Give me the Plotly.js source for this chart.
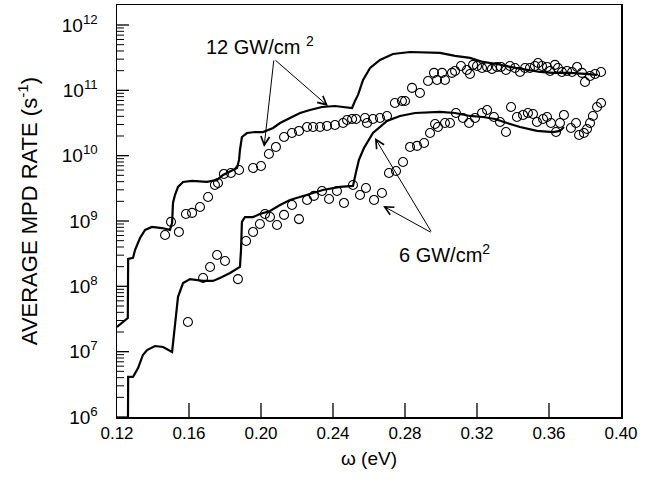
<!DOCTYPE html>
<html>
<head>
<meta charset="utf-8">
<script src="https://cdn.plot.ly/plotly-3.0.1.min.js"></script>
<style>html,body{margin:0;padding:0;background:#fff;}#chart{width:652px;height:487px;}</style>
</head>
<body>
<div id="chart"></div>
<script>
// Theory curve, 12 GW/cm^2
const omega12Line = [0.1200, 0.1260, 0.1262, 0.1289, 0.1300, 0.1328, 0.1356, 0.1394, 0.1450, 0.1494, 0.1506, 0.1511, 0.1522, 0.1539, 0.1567, 0.1617, 0.1700, 0.1756, 0.1789, 0.1839, 0.1867, 0.1878, 0.1883, 0.1894, 0.1922, 0.1967, 0.2011, 0.2067, 0.2106, 0.2161, 0.2217, 0.2272, 0.2339, 0.2411, 0.2467, 0.2506, 0.2522, 0.2539, 0.2567, 0.2606, 0.2661, 0.2733, 0.2828, 0.2922, 0.2994, 0.3078, 0.3161, 0.3233, 0.3311, 0.3383, 0.3478, 0.3550, 0.3622, 0.3717, 0.3800, 0.3867];
const rate12Line = [2.39e7, 3.27e7, 2.62e8, 2.72e8, 3.6e8, 5.5e8, 7.3e8, 8.1e8, 7.8e8, 7.3e8, 9.3e8, 1.89e9, 2.5e9, 3.32e9, 3.96e9, 4.1e9, 3.96e9, 4.25e9, 5.06e9, 6.0e9, 6.5e9, 8.6e9, 1.22e10, 1.93e10, 2.22e10, 2.3e10, 2.3e10, 2.65e10, 3.16e10, 3.77e10, 4.5e10, 5.0e10, 5.56e10, 5.76e10, 5.56e10, 5.37e10, 6.87e10, 8.5e10, 1.44e11, 2.2e11, 2.92e11, 3.6e11, 3.86e11, 3.73e11, 3.73e11, 3.36e11, 3.13e11, 2.72e11, 2.53e11, 2.28e11, 2.05e11, 1.91e11, 1.85e11, 1.85e11, 1.78e11, 1.72e11];

// Theory curve, 6 GW/cm^2
const omega6Line = [0.1261, 0.1262, 0.1289, 0.1317, 0.1344, 0.1367, 0.1411, 0.1456, 0.1506, 0.1517, 0.1528, 0.1539, 0.1567, 0.1606, 0.1678, 0.1733, 0.1772, 0.1828, 0.1883, 0.1889, 0.1894, 0.1911, 0.1956, 0.1994, 0.2050, 0.2106, 0.2161, 0.2256, 0.2344, 0.2439, 0.2511, 0.2528, 0.2544, 0.2572, 0.2622, 0.2700, 0.2772, 0.2856, 0.2994, 0.3078, 0.3161, 0.3233, 0.3300, 0.3367, 0.3439, 0.3533, 0.3622, 0.3661, 0.3683];
const rate6Line = [1.0e6, 4.1e6, 4.1e6, 5.6e6, 8.9e6, 1.06e7, 1.22e7, 1.18e7, 9.9e6, 1.8e7, 3.64e7, 6.9e7, 1.12e8, 1.29e8, 1.21e8, 1.21e8, 1.34e8, 1.6e8, 1.98e8, 3.6e8, 9.7e8, 1.15e9, 1.15e9, 1.28e9, 1.42e9, 1.76e9, 2.1e9, 2.5e9, 2.98e9, 3.32e9, 3.44e9, 5.6e9, 8.6e9, 1.31e10, 2.22e10, 3.4e10, 4.05e10, 4.5e10, 4.67e10, 4.5e10, 4.05e10, 3.91e10, 3.64e10, 3.16e10, 2.75e10, 2.39e10, 2.3e10, 2.39e10, 2.75e10];

// Measured points, 12 GW/cm^2
const omega12Exp = [0.1467, 0.1500, 0.1544, 0.1583, 0.1617, 0.1661, 0.1706, 0.1744, 0.1761, 0.1794, 0.1833, 0.1878, 0.1956, 0.2000, 0.2044, 0.2083, 0.2128, 0.2172, 0.2211, 0.2256, 0.2289, 0.2328, 0.2367, 0.2411, 0.2456, 0.2478, 0.2506, 0.2528, 0.2578, 0.2589, 0.2622, 0.2661, 0.2700, 0.2744, 0.2783, 0.2800, 0.2839, 0.2883, 0.2928, 0.2961, 0.2978, 0.3006, 0.3022, 0.3061, 0.3078, 0.3111, 0.3144, 0.3161, 0.3178, 0.3200, 0.3228, 0.3256, 0.3283, 0.3311, 0.3333, 0.3361, 0.3383, 0.3411, 0.3439, 0.3467, 0.3494, 0.3522, 0.3539, 0.3561, 0.3589, 0.3606, 0.3633, 0.3650, 0.3672, 0.3700, 0.3728, 0.3756, 0.3783, 0.3800, 0.3828, 0.3856, 0.3889];
const rate12Exp = [6.1e8, 9.7e8, 6.8e8, 1.28e9, 1.33e9, 1.64e9, 2.33e9, 3.56e9, 3.82e9, 5.25e9, 5.43e9, 6.04e9, 6.47e9, 6.95e9, 1.06e10, 1.36e10, 1.93e10, 2.22e10, 2.39e10, 2.75e10, 2.75e10, 2.75e10, 2.85e10, 2.95e10, 3.16e10, 3.52e10, 3.64e10, 3.64e10, 3.77e10, 3.16e10, 3.64e10, 3.77e10, 4.05e10, 6.4e10, 6.87e10, 6.87e10, 1.09e11, 9.1e10, 1.39e11, 1.85e11, 1.44e11, 1.85e11, 1.44e11, 1.85e11, 1.98e11, 2.36e11, 2.05e11, 1.78e11, 2.45e11, 2.36e11, 2.20e11, 2.28e11, 2.12e11, 2.28e11, 2.28e11, 2.05e11, 2.36e11, 2.20e11, 1.91e11, 2.20e11, 2.20e11, 2.36e11, 2.62e11, 2.36e11, 2.28e11, 1.98e11, 2.45e11, 2.20e11, 1.91e11, 1.98e11, 1.91e11, 2.28e11, 1.85e11, 1.34e11, 1.66e11, 1.78e11, 1.91e11];

// Measured points, 6 GW/cm^2
const omega6Exp = [0.1594, 0.1678, 0.1717, 0.1756, 0.1800, 0.1872, 0.1917, 0.1956, 0.1994, 0.2022, 0.2050, 0.2089, 0.2128, 0.2172, 0.2211, 0.2256, 0.2294, 0.2339, 0.2378, 0.2422, 0.2461, 0.2511, 0.2550, 0.2583, 0.2628, 0.2672, 0.2711, 0.2750, 0.2789, 0.2828, 0.2867, 0.2906, 0.2939, 0.2967, 0.2983, 0.3022, 0.3050, 0.3083, 0.3122, 0.3156, 0.3189, 0.3228, 0.3256, 0.3294, 0.3328, 0.3361, 0.3389, 0.3422, 0.3456, 0.3483, 0.3511, 0.3533, 0.3567, 0.3589, 0.3611, 0.3639, 0.3661, 0.3683, 0.3722, 0.3750, 0.3767, 0.3794, 0.3811, 0.3828, 0.3844, 0.3867, 0.3889];
const rate6Exp = [2.85e7, 1.34e8, 1.98e8, 3.02e8, 2.44e8, 1.29e8, 4.94e8, 6.8e8, 9.0e8, 1.28e9, 1.15e9, 8.7e8, 1.24e9, 1.76e9, 1.07e9, 2.1e9, 2.42e9, 2.88e9, 2.17e9, 2.88e9, 1.89e9, 3.56e9, 2.5e9, 3.2e9, 2.1e9, 2.68e9, 5.43e9, 5.83e9, 8.0e9, 1.36e10, 1.41e10, 1.56e10, 2.22e10, 3.05e10, 2.75e10, 3.16e10, 3.16e10, 4.5e10, 3.77e10, 3.16e10, 3.77e10, 4.5e10, 5.0e10, 3.91e10, 3.28e10, 2.3e10, 5.56e10, 3.91e10, 4.2e10, 4.5e10, 4.35e10, 3.28e10, 3.64e10, 3.91e10, 3.16e10, 2.3e10, 3.16e10, 4.2e10, 2.65e10, 3.16e10, 2.07e10, 2.22e10, 2.56e10, 3.16e10, 4.05e10, 5.56e10, 6.4e10];

// Axis ticks
const xTickVals = [0.12, 0.16, 0.20, 0.24, 0.28, 0.32, 0.36, 0.40];
const xTickText = ['0.12', '0.16', '0.20', '0.24', '0.28', '0.32', '0.36', '0.40'];
const yTickVals = [1e6, 1e7, 1e8, 1e9, 1e10, 1e11, 1e12];
const yTickText = ['10<sup>6</sup>', '10<sup>7</sup>', '10<sup>8</sup>', '10<sup>9</sup>', '10<sup>10</sup>', '10<sup>11</sup>', '10<sup>12</sup>'];

const X_RANGE = [0.12, 0.40];
const Y_LOG_RANGE = [6, 12.306];
const PLOT_W = 504, PLOT_H = 412;

const yMinorVals = [];
for (let d = 6; d <= 11; d++) {
  for (let k = 2; k <= 9; k++) yMinorVals.push(k * Math.pow(10, d));
}

const FONT = 'Liberation Sans, Arial, Helvetica, sans-serif';
const lineStyle = {color: '#000', width: 2.2};
const markerStyle = {symbol: 'circle-open', size: 9, color: '#000', line: {width: 1.1, color: '#000'}};

// Inside tick marks as short line segments built from the tick arrays
function xTickSegments(vals, lenPx) {
  const top = Math.pow(10, Y_LOG_RANGE[0] + (Y_LOG_RANGE[1] - Y_LOG_RANGE[0]) * lenPx / PLOT_H);
  const xs = [], ys = [];
  vals.forEach(v => { xs.push(v, v, null); ys.push(Math.pow(10, Y_LOG_RANGE[0]), top, null); });
  return {x: xs, y: ys};
}
function yTickSegments(vals, lenPx) {
  const right = X_RANGE[0] + (X_RANGE[1] - X_RANGE[0]) * lenPx / PLOT_W;
  const xs = [], ys = [];
  vals.forEach(v => { xs.push(X_RANGE[0], right, null); ys.push(v, v, null); });
  return {x: xs, y: ys};
}
const xMaj = xTickSegments(xTickVals.slice(1, -1), 14);
const yMaj = yTickSegments(yTickVals, 12);
const yMin = yTickSegments(yMinorVals, 7);
function tickLines(seg, width) {
  return {x: seg.x, y: seg.y, mode: 'lines', connectgaps: false, hoverinfo: 'skip', showlegend: false,
    line: {color: '#000', width: width}};
}

const traces = [
  {x: omega12Line, y: rate12Line, mode: 'lines', line: lineStyle, name: '12 GW/cm² theory'},
  {x: omega6Line, y: rate6Line, mode: 'lines', line: lineStyle, name: '6 GW/cm² theory'},
  {x: omega12Exp, y: rate12Exp, mode: 'markers', marker: markerStyle, name: '12 GW/cm² experiment'},
  {x: omega6Exp, y: rate6Exp, mode: 'markers', marker: markerStyle, name: '6 GW/cm² experiment'},
  tickLines(xMaj, 1.3),
  tickLines(yMaj, 1.3),
  tickLines(yMin, 1.0)
];

function arrow(hx, hy, tx, ty) {
  return {x: hx, y: hy, ax: tx, ay: ty, xref: 'x', yref: 'y', axref: 'x', ayref: 'y',
    text: '', showarrow: true, arrowhead: 5, arrowsize: 1.7, arrowwidth: 1, arrowcolor: '#000',
    standoff: 0, startstandoff: 0};
}

const layout = {
  width: 652, height: 487,
  margin: {l: 117, r: 31, t: 5, b: 70},
  paper_bgcolor: '#fff', plot_bgcolor: '#fff',
  showlegend: false,
  font: {family: FONT, color: '#000'},
  xaxis: {
    range: X_RANGE, tickmode: 'array', tickvals: xTickVals, ticktext: xTickText,
    ticks: '', showline: true, mirror: true, linewidth: 1.5, linecolor: '#000',
    showgrid: false, zeroline: false,
    tickfont: {size: 17, family: FONT},
    title: {text: 'ω (eV)', font: {size: 19, family: FONT}, standoff: 10}
  },
  yaxis: {
    type: 'log', range: Y_LOG_RANGE, tickmode: 'array', tickvals: yTickVals, ticktext: yTickText,
    ticks: '', showline: true, mirror: true, linewidth: 1.5, linecolor: '#000',
    showgrid: false, zeroline: false,
    tickfont: {size: 19, family: FONT}, ticklabelstandoff: 14,
    title: {text: 'AVERAGE MPD RATE (s<sup>-1</sup>)', font: {size: 22, family: FONT}, standoff: 18}
  },
  annotations: [
    {x: 0.1994, y: 11.68, xref: 'x', yref: 'y', text: '12 GW/cm <sup>2</sup>', showarrow: false,
      font: {size: 20, family: FONT}, xanchor: 'center', yanchor: 'middle'},
    arrow(0.2017, 10.133, 0.2072, 11.48),
    arrow(0.2372, 10.760, 0.2072, 11.48),
    {x: 0.3022, y: 8.51, xref: 'x', yref: 'y', text: '6 GW/cm<sup>2</sup>', showarrow: false,
      font: {size: 20, family: FONT}, xanchor: 'center', yanchor: 'middle'},
    arrow(0.2678, 9.230, 0.2950, 8.817),
    arrow(0.2633, 10.271, 0.2950, 8.817)
  ]
};

Plotly.newPlot('chart', traces, layout, {staticPlot: true, displayModeBar: false});
</script>
</body>
</html>
